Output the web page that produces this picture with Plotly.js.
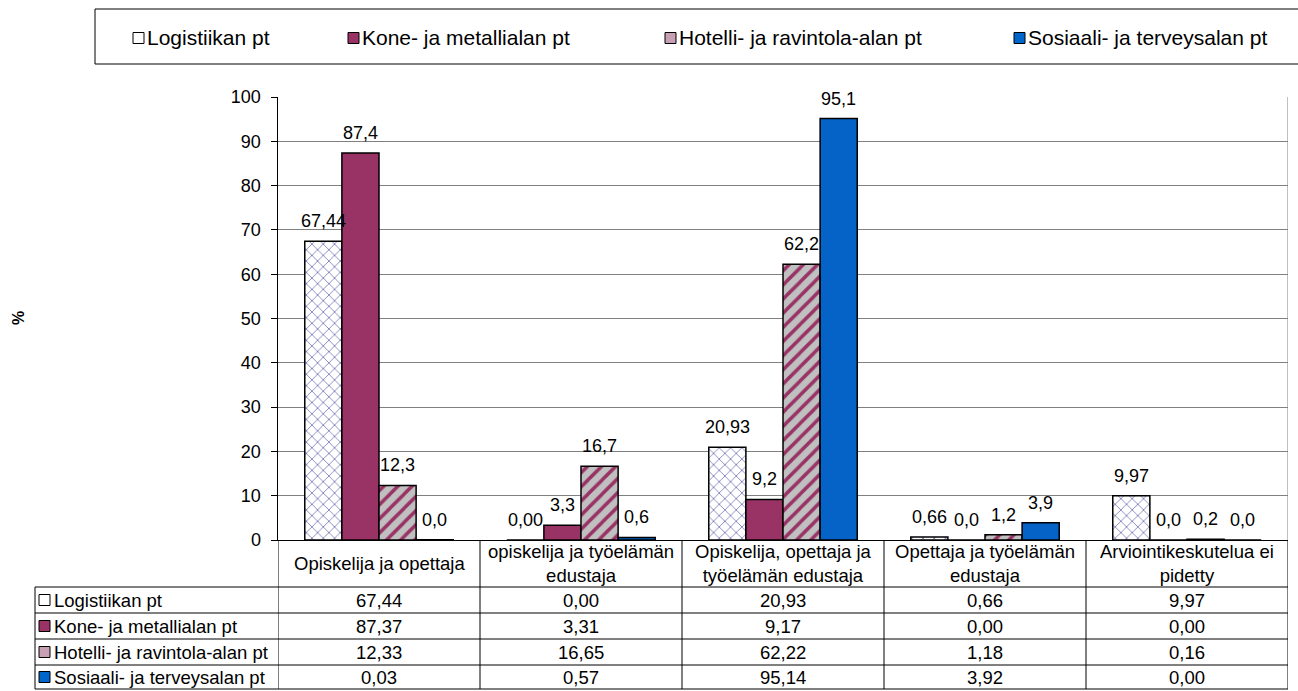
<!DOCTYPE html>
<html><head><meta charset="utf-8">
<script src="https://cdn.plot.ly/plotly-3.0.1.min.js"></script>
<style>html,body{margin:0;padding:0;background:#fff}</style>
</head><body><div id="chart" style="width:1298px;height:691px"></div>
<script>
const categories = ["Opiskelija ja opettaja","opiskelija ja työelämän<br>edustaja","Opiskelija, opettaja ja<br>työelämän edustaja","Opettaja ja työelämän<br>edustaja","Arviointikeskutelua ei<br>pidetty"];
const seriesNames = ["Logistiikan pt","Kone- ja metallialan pt","Hotelli- ja ravintola-alan pt","Sosiaali- ja terveysalan pt"];
const logistiikan = [67.44, 0.00, 20.93, 0.66, 9.97];
const kone = [87.37, 3.31, 9.17, 0.00, 0.00];
const hotelli = [12.33, 16.65, 62.22, 1.18, 0.16];
const sosiaali = [0.03, 0.57, 95.14, 3.92, 0.00];
const labelDecimals = [2, 1, 1, 1];
const yTickVals = [0,10,20,30,40,50,60,70,80,90,100];

const FONT = "Liberation Sans, Arial, sans-serif";
const FS_TABLE = 18.5, FS_BAR = 18, FS_TICK = 18, FS_LEG = 21;
const L = 278, R = 10, T = 97, B = 151, W = 1298, H = 691;
const PW = W - L - R, PH = H - T - B;
const X = px => (px - L) / PW;
const Y = py => (H - B - py) / PH;
const BARGAP = 0.265;

function fmt(v, d) {
  const n = Math.round(v * 100);
  let s = d === 2 ? (n / 100).toFixed(2) : (Math.round(n / 10) / 10).toFixed(1);
  return s.replace('.', ',');
}

const seriesValues = [logistiikan, kone, hotelli, sosiaali];
const styles = [
  {color: '#ffffff', pattern: {shape: 'x', fgcolor: '#6a6ab0', bgcolor: '#ffffff', size: 8, solidity: 0.18}},
  {color: '#993366'},
  {color: '#c0c0c0', pattern: {shape: '/', fgcolor: '#993366', bgcolor: '#c0c0c0', size: 10, solidity: 0.35}},
  {color: '#0563c8'}
];
const swatchColors = ['#ffffff', '#993366', '#c8a0b4', '#0066cc'];

const traces = seriesValues.map((vals, i) => {
  const m = {color: styles[i].color, line: {color: '#000', width: 1.5}};
  if (styles[i].pattern) m.pattern = styles[i].pattern;
  return {type: 'bar', name: seriesNames[i], x: categories, y: vals, marker: m, hoverinfo: 'skip'};
});

const shapes = [];
const annotations = [];

// bar value labels, positioned on the bar centres of the grouped layout
const nS = seriesValues.length;
const bw = (1 - BARGAP) / nS;
seriesValues.forEach((vals, i) => {
  vals.forEach((v, k) => {
    annotations.push({xref:'x', yref:'y', x: k - (1 - BARGAP) / 2 + (i + 0.5) * bw, y: v,
      text: fmt(v, labelDecimals[i]), showarrow:false, xanchor:'center', yanchor:'bottom', yshift: 8,
      font:{family:FONT, size:FS_BAR, color:'#000'}});
  });
});

const rowLines = [587, 613, 639, 665, 689];
shapes.push({type:'line', xref:'x', yref:'paper', x0:4.5, x1:4.5, y0:0, y1:1, line:{color:'#808080', width:1}});
for (let k = 0; k <= categories.length; k++) {
  shapes.push({type:'line', xref:'x', yref:'paper', x0:k-0.5, x1:k-0.5, y0:Y(540), y1:Y(689), line:{color:'#000', width:1}});
}
rowLines.forEach(py => shapes.push({type:'line', xref:'paper', yref:'paper', x0:X(35), x1:1, y0:Y(py), y1:Y(py), line:{color:'#000', width:1}}));
shapes.push({type:'line', xref:'paper', yref:'paper', x0:X(35), x1:X(35), y0:Y(587), y1:Y(689), line:{color:'#000', width:1}});

categories.forEach((c, k) => annotations.push({xref:'x', yref:'paper', x:k, y:Y(563), text:c, showarrow:false, xanchor:'center', yanchor:'middle', font:{family:FONT, size:FS_TABLE, color:'#000'}}));

seriesNames.forEach((name, i) => {
  const top = rowLines[i], bot = rowLines[i+1];
  const cy = (top + bot) / 2;
  shapes.push({type:'rect', xref:'paper', yref:'paper', x0:X(39), x1:X(50), y0:Y(cy-5.5), y1:Y(cy+5.5), fillcolor:swatchColors[i], line:{color:'#000', width:1}});
  annotations.push({xref:'paper', yref:'paper', x:X(52), y:Y(cy), text:name, showarrow:false, xanchor:'left', yanchor:'middle', font:{family:FONT, size:FS_TABLE, color:'#000'}});
  seriesValues[i].forEach((v, k) => annotations.push({xref:'x', yref:'paper', x:k, y:Y(cy), text:fmt(v, 2), showarrow:false, xanchor:'center', yanchor:'middle', font:{family:FONT, size:FS_TABLE, color:'#000'}}));
});

shapes.push({type:'rect', xref:'paper', yref:'paper', x0:X(95), x1:X(1310), y0:Y(9), y1:Y(64), line:{color:'#000', width:1}, fillcolor:'rgba(0,0,0,0)'});
const legendX = [133, 348, 665, 1014];
seriesNames.forEach((name, i) => {
  shapes.push({type:'rect', xref:'paper', yref:'paper', x0:X(legendX[i]), x1:X(legendX[i]+11), y0:Y(32.5), y1:Y(43.5), fillcolor:swatchColors[i], line:{color:'#000', width:1}});
  annotations.push({xref:'paper', yref:'paper', x:X(legendX[i]+12), y:Y(38), text:name, showarrow:false, xanchor:'left', yanchor:'middle', font:{family:FONT, size:FS_LEG, color:'#000'}});
});

annotations.push({xref:'paper', yref:'paper', x:X(18), y:Y(318), text:'<b>%</b>', showarrow:false, textangle:-90, xanchor:'center', yanchor:'middle', font:{family:FONT, size:16, color:'#000'}});

const layout = {
  width: W, height: H,
  margin: {l: L, r: R, t: T, b: B, pad: 0},
  paper_bgcolor: '#fff', plot_bgcolor: '#fff',
  barmode: 'group', bargap: BARGAP, bargroupgap: 0,
  showlegend: false,
  font: {family: FONT, size: FS_TABLE, color: '#000'},
  xaxis: {type: 'category', showticklabels: false, ticks: '', showline: true, linecolor: '#000', linewidth: 1, showgrid: false, range: [-0.5, 4.5], fixedrange: true},
  yaxis: {range: [0, 100], tickvals: yTickVals, ticktext: yTickVals.map(String), ticks: 'outside', ticklen: 6, tickcolor: '#000', ticklabelstandoff: 6, showline: true, linecolor: '#000', linewidth: 1.5, gridcolor: '#808080', gridwidth: 1, zeroline: false, tickfont: {family: FONT, size: FS_TICK, color: '#000'}, fixedrange: true},
  shapes: shapes, annotations: annotations
};

Plotly.newPlot('chart', traces, layout, {staticPlot: true, displayModeBar: false});
</script>
</body></html>
